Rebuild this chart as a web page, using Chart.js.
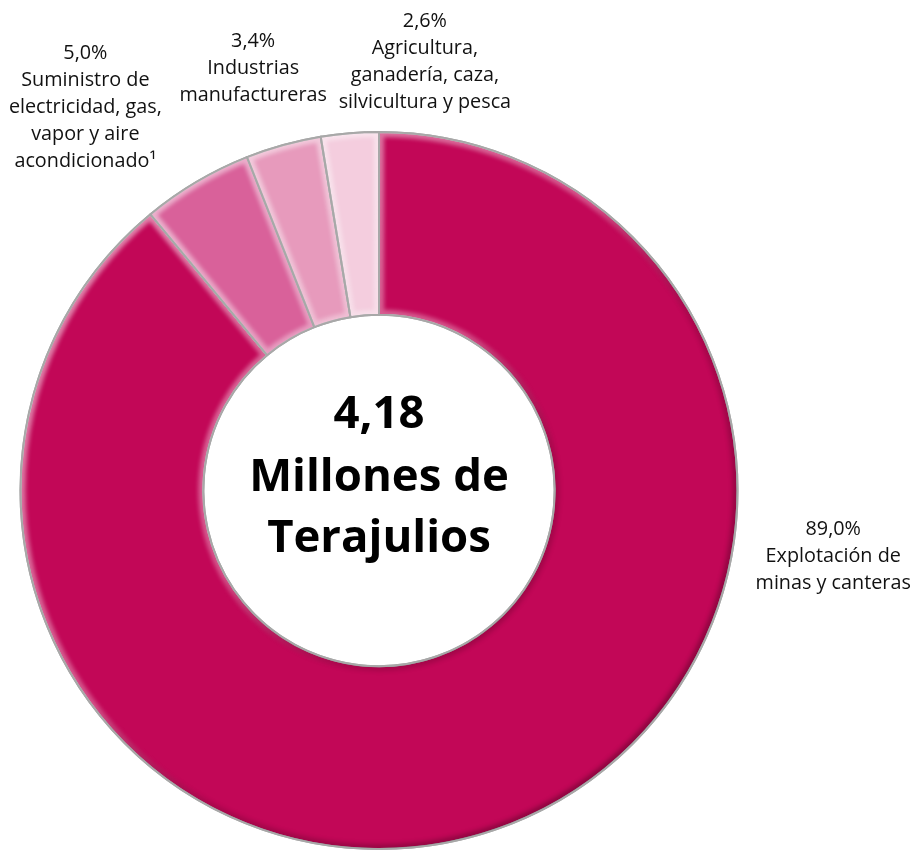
<!DOCTYPE html>
<html lang="es">
<head>
<meta charset="utf-8">
<script src="https://cdn.jsdelivr.net/npm/chart.js@4.4.1/dist/chart.umd.min.js"></script>
<style>
  html, body { margin: 0; padding: 0; background: #ffffff; }
  #wrap { position: relative; width: 916px; height: 850px; }
</style>
</head>
<body>
<div id="wrap"><canvas id="dona" width="916" height="850"></canvas></div>
<script>
// Consumo final de energía por actividad económica (participación %)
const sectores = [
  'Explotación de minas y canteras',
  'Suministro de electricidad, gas, vapor y aire acondicionado¹',
  'Industrias manufactureras',
  'Agricultura, ganadería, caza, silvicultura y pesca'
];
const participacion = [89.0, 5.0, 3.4, 2.6];
const etiquetas = [
  ['Explotación de', 'minas y canteras'],
  ['Suministro de', 'electricidad, gas,', 'vapor y aire', 'acondicionado¹'],
  ['Industrias', 'manufactureras'],
  ['Agricultura,', 'ganadería, caza,', 'silvicultura y pesca']
];
const colores = ['#C20757', '#D9619A', '#E79ABC', '#F4CDDE'];
const totalTexto = ['4,18', 'Millones de', 'Terajulios'];

// where each label block sits, relative to the centre, in units of the outer radius
const posEtiqueta = [[1.267, 0.184], [-0.819, -1.070], [-0.351, -1.178], [0.128, -1.195]];

const fmt = v => v.toFixed(1).replace('.', ',') + '%';

// soft bevel on each slice: light from upper left, shade toward lower right
const bisel = {
  id: 'bisel',
  afterDatasetDraw(chart) {
    const ctx = chart.ctx;
    chart.getDatasetMeta(0).data.forEach(arc => {
      const {x, y, startAngle, endAngle, innerRadius, outerRadius} = arc.getProps(['x','y','startAngle','endAngle','innerRadius','outerRadius'], true);
      const path = () => {
        ctx.beginPath();
        ctx.arc(x, y, outerRadius, startAngle, endAngle);
        ctx.arc(x, y, innerRadius, endAngle, startAngle, true);
        ctx.closePath();
      };
      ctx.save();
      path();
      ctx.clip();
      const g = ctx.createLinearGradient(x - outerRadius, y - outerRadius, x + outerRadius, y + outerRadius);
      g.addColorStop(0, 'rgba(255,255,255,0.6)');
      g.addColorStop(0.45, 'rgba(255,255,255,0.3)');
      g.addColorStop(0.6, 'rgba(0,0,0,0.12)');
      g.addColorStop(1, 'rgba(0,0,0,0.35)');
      ctx.filter = 'blur(2px)';
      ctx.lineWidth = 10;
      ctx.strokeStyle = g;
      path();
      ctx.stroke();
      ctx.restore();
      ctx.save();
      ctx.lineWidth = 2;
      ctx.strokeStyle = '#a8a8a8';
      path();
      ctx.stroke();
      ctx.restore();
    });
  }
};

const rotulos = {
  id: 'rotulos',
  afterDraw(chart) {
    const ctx = chart.ctx;
    const meta = chart.getDatasetMeta(0);
    const arc0 = meta.data[0];
    const cx = arc0.x, cy = arc0.y, R = arc0.outerRadius;
    ctx.save();
    ctx.fillStyle = '#111111';
    ctx.textAlign = 'center';
    ctx.textBaseline = 'middle';
    ctx.font = '19.8px "Open Sans", "Noto Sans", sans-serif';
    const lh = 27;
    participacion.forEach((v, i) => {
      const lineas = [fmt(v)].concat(etiquetas[i]);
      const bx = cx + posEtiqueta[i][0] * R;
      const by = cy + posEtiqueta[i][1] * R;
      const y0 = by - (lineas.length - 1) * lh / 2;
      lineas.forEach((t, k) => ctx.fillText(t, bx, y0 + k * lh));
    });
    // total in the hole
    ctx.fillStyle = '#000000';
    ctx.font = 'bold 45.5px "Open Sans", "Noto Sans", sans-serif';
    ctx.textBaseline = 'alphabetic';
    const base = [427, 490, 551].map(b => b - 490);
    totalTexto.forEach((t, k) => ctx.fillText(t, cx, cy + base[k]));
    ctx.restore();
  }
};

new Chart(document.getElementById('dona'), {
  type: 'doughnut',
  data: {
    labels: sectores,
    datasets: [{
      data: participacion,
      backgroundColor: colores,
      borderColor: '#a8a8a8',
      borderWidth: 2,
      borderAlign: 'center'
    }]
  },
  options: {
    responsive: false,
    animation: false,
    cutout: '49%',
    rotation: 0,
    layout: { padding: { left: 18, right: 176, top: 131, bottom: 0 } },
    plugins: {
      legend: { display: false },
      tooltip: { enabled: false }
    }
  },
  plugins: [bisel, rotulos]
});
</script>
</body>
</html>
